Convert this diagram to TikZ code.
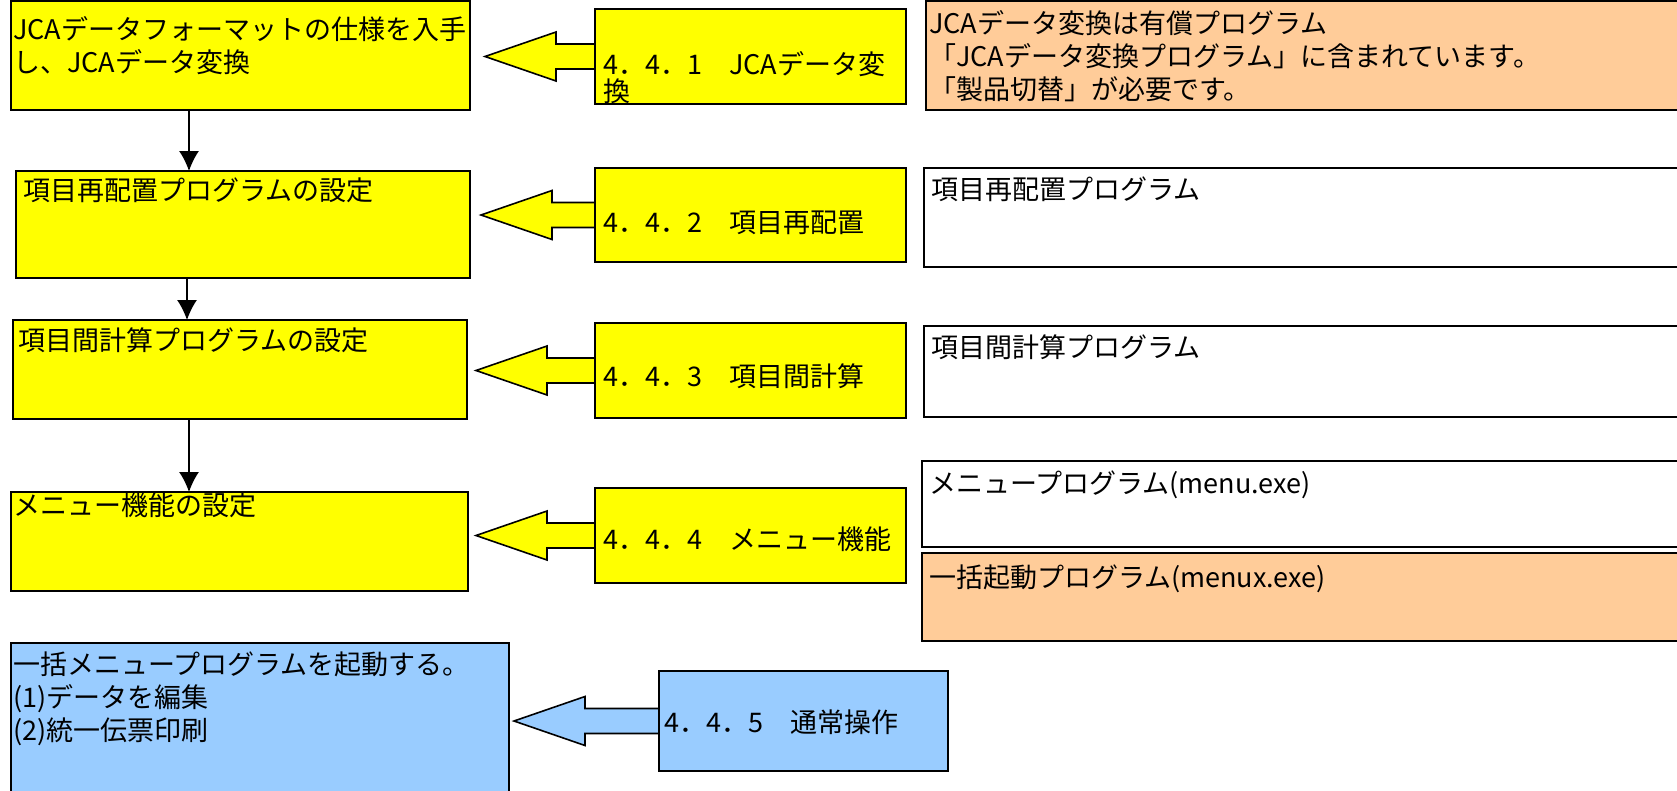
\documentclass[tikz,border=0pt]{standalone}
\usepackage{fontspec}
\setmainfont{Noto Sans CJK JP}
\usetikzlibrary{calc,arrows.meta}
\definecolor{jYellow}{HTML}{FFFF00}
\definecolor{jOrange}{HTML}{FFCC99}
\definecolor{jBlue}{HTML}{99CCFF}

% block arrow from a section box back to its step box: #1 fill, #2 section, #3 step, #4 gap
\newcommand{\blockarrow}[4]{%
	\draw[ARR, fill=#1] ($(#3.east |- #2.west)+(#4,0)$) coordinate (tip) -- ++(71,-24.5) -- ++(0,12) -- ($(#2.west)+(0,-12.5)$) -- ($(#2.west)+(0,12.5)$) -- ($(tip)+(71,12.5)$) -- ++(0,12) -- cycle;
}

\begin{document}
\begin{tikzpicture}[x=1pt,y=-1pt,>={Latex[length=20pt,width=20pt]}]
		\tikzstyle{BOX} = [draw=black, line width=1.6pt, inner sep=0pt, outer sep=0pt, anchor=north west]
		\tikzstyle{task} = [BOX, fill=jYellow]
		\tikzstyle{sect} = [BOX, fill=jYellow]
		\tikzstyle{note} = [BOX, fill=white]
		\tikzstyle{paid} = [BOX, fill=jOrange]
		\tikzstyle{oper} = [BOX, fill=jBlue]
		\tikzstyle{txt} = [inner sep=0pt, anchor=base west, align=left, font=\fontsize{27}{33}\selectfont]
		\tikzstyle{ARR} = [line width=1.6pt, line join=miter]
		\tikzstyle{DOWN} = [->, line width=1.3pt]

		\useasboundingbox (0,0) rectangle (1677,790);

		% JCA conversion
		\node[task, minimum width=459, minimum height=109] (taskOne) at (11,1) {};
		\node[sect, minimum width=311, minimum height=95] (secOne) at (595,9) {};
		\node[paid, minimum width=760, minimum height=109] (noteOne) at (926,1) {};
		\blockarrow{jYellow}{secOne}{taskOne}{15}
		% base of a multi-line text = base of its last line
		\node[txt] (taskOneT) at (13,72) {JCAデータフォーマットの仕様を入手\\し、JCAデータ変換};
		\node[txt, font=\fontsize{27}{27}\selectfont] (secOneT) at (603,101) {4．4．1　JCAデータ変\\換};
		\node[txt] (noteOneT) at (929,99) {JCAデータ変換は有償プログラム\\「JCAデータ変換プログラム」に含まれています。\\「製品切替」が必要です。};

		% field rearrangement
		\node[task, minimum width=454, minimum height=107] (taskTwo) at (16,171) {};
		\node[sect, minimum width=311, minimum height=94] (secTwo) at (595,168) {};
		\node[note, minimum width=760, minimum height=99] (noteTwo) at (924,168) {};
		\blockarrow{jYellow}{secTwo}{taskTwo}{11}
		\node[txt] (taskTwoT) at (23,200) {項目再配置プログラムの設定};
		\node[txt] (secTwoT) at (603,232) {4．4．2　項目再配置};
		\node[txt] (noteTwoT) at (931,199) {項目再配置プログラム};

		% field calculation
		\node[task, minimum width=454, minimum height=99] (taskThree) at (13,320) {};
		\node[sect, minimum width=311, minimum height=95] (secThree) at (595,323) {};
		\node[note, minimum width=760, minimum height=91] (noteThree) at (924,326) {};
		\blockarrow{jYellow}{secThree}{taskThree}{9}
		\node[txt] (taskThreeT) at (18,350) {項目間計算プログラムの設定};
		\node[txt] (secThreeT) at (603,386) {4．4．3　項目間計算};
		\node[txt] (noteThreeT) at (931,357) {項目間計算プログラム};

		% menu
		\node[task, minimum width=457, minimum height=99] (taskFour) at (11,492) {};
		\node[sect, minimum width=311, minimum height=95] (secFour) at (595,488) {};
		\node[note, minimum width=760, minimum height=86] (noteFour) at (922,461) {};
		\node[paid, minimum width=760, minimum height=88] (noteFive) at (922,553) {};
		\blockarrow{jYellow}{secFour}{taskFour}{8}
		\node[txt] (taskFourT) at (13,515) {メニュー機能の設定};
		\node[txt] (secFourT) at (603,549) {4．4．4　メニュー機能};
		\node[txt] (noteFourT) at (929,493) {メニュープログラム(menu.exe)};
		\node[txt] (noteFiveT) at (929,587) {一括起動プログラム(menux.exe)};

		% normal operation
		\node[oper, minimum width=498, minimum height=152] (taskFive) at (11,643) {};
		\node[oper, minimum width=289, minimum height=100] (secFive) at (659,671) {};
		\blockarrow{jBlue}{secFive}{taskFive}{5}
		\node[txt] (taskFiveT) at (13,740) {一括メニュープログラムを起動する。\\(1)データを編集\\(2)統一伝票印刷};
		\node[txt] (secFiveT) at (664,732) {4．4．5　通常操作};

		\draw[DOWN] ([xshift=178pt]taskOne.south west) -- ([xshift=173pt]taskTwo.north west);
		\draw[DOWN] ([xshift=171pt]taskTwo.south west) -- ([xshift=174pt]taskThree.north west);
		\draw[DOWN] ([xshift=176pt]taskThree.south west) -- ([xshift=178pt]taskFour.north west);
\end{tikzpicture}
\end{document}
